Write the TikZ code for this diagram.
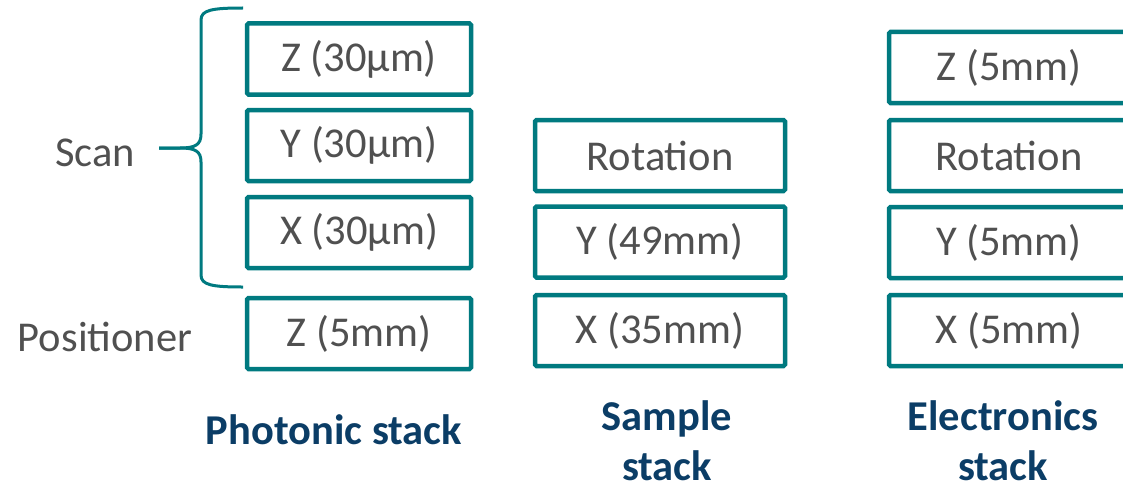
\documentclass[tikz,border=0pt]{standalone}
\usepackage{fontspec}
\setmainfont{Carlito}
\definecolor{teal1}{HTML}{007A80}
\definecolor{txtgray}{HTML}{505050}
\definecolor{navy}{HTML}{0B3D66}
\begin{document}
\begin{tikzpicture}[x=1pt,y=-1pt,
  stagebox/.style={draw=teal1,line width=4.5pt,rounded corners=1.5pt,fill=white,
    minimum height=71pt,inner sep=0pt,text=txtgray,font=\fontsize{42.5}{50}\selectfont},
  sidelabel/.style={text=txtgray,font=\fontsize{42.5}{50}\selectfont,inner sep=0pt},
  stacklabel/.style={text=navy,font=\fontsize{42.5}{50}\selectfont\bfseries,align=center,inner sep=0pt}]
\useasboundingbox (0,0) rectangle (1123,487);
% Photonic stack
\node[stagebox,minimum width=224pt] (pz30) at (359,59) {Z (30µm)};
\node[stagebox,minimum width=224pt] (py30) at (359,145.5) {Y (30µm)};
\node[stagebox,minimum width=224pt] (px30) at (359,232.5) {X (30µm)};
\node[stagebox,minimum width=224pt] (pz5) at (359,333.5) {Z (5mm)};
% Sample stack
\node[stagebox,minimum width=250pt] (srot) at (660,155.5) {Rotation};
\node[stagebox,minimum width=250pt] (sy) at (660,242) {Y (49mm)};
\node[stagebox,minimum width=250pt] (sx) at (660,330.5) {X (35mm)};
% Electronics stack
\node[stagebox,minimum width=240pt] (ez) at (1009,67.5) {Z (5mm)};
\node[stagebox,minimum width=240pt] (erot) at (1009,155.5) {Rotation};
\node[stagebox,minimum width=240pt] (ey) at (1009,242.5) {Y (5mm)};
\node[stagebox,minimum width=240pt] (ex) at (1009,330.5) {X (5mm)};
% Brace
\draw[teal1,line width=3pt]
  (243,8) .. controls (212,8) and (201,10) .. (201,20) -- (201,134)
  .. controls (201,145) and (195,148) .. (180,148) -- (159,148);
\draw[teal1,line width=3pt]
  (159,148) -- (180,148) .. controls (195,148) and (201,151) .. (201,162)
  -- (201,275) .. controls (201,285) and (212,287) .. (243,287);
% Side labels
\node[sidelabel] (scan) at (95,153) {Scan};
\node[sidelabel] (pos) at (105,337) {Positioner};
% Stack labels
\node[stacklabel] (phot) at (334,430) {Photonic stack};
\node[stacklabel] (samp) at (667,441) {Sample\\stack};
\node[stacklabel] (elec) at (1003,441) {Electronics\\stack};
\end{tikzpicture}
\end{document}
